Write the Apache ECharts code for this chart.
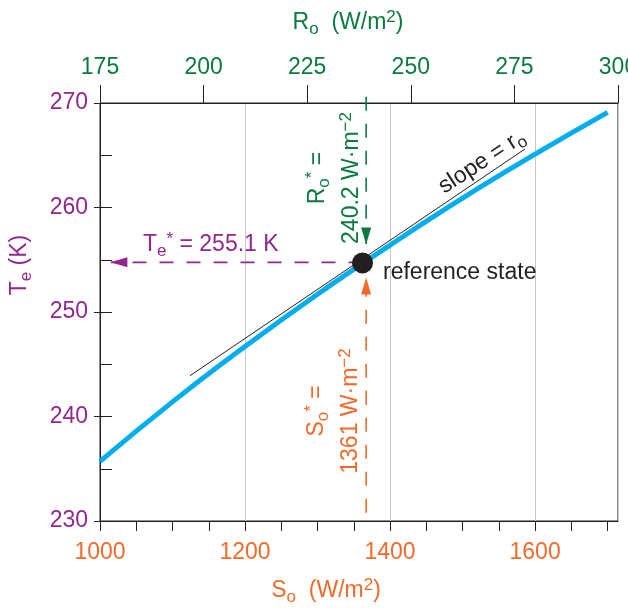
<!DOCTYPE html>
<html>
<head>
<meta charset="utf-8">
<script src="https://cdn.jsdelivr.net/npm/echarts@6/dist/echarts.min.js"></script>
<style>
  html, body { margin: 0; background: #fff; }
  #chart { width: 628px; height: 609px; }
</style>
</head>
<body>
<div id="chart"></div>
<script>
// effective temperature curve
const solarConst = [1000, 1100, 1200, 1300, 1400, 1500, 1600, 1700]
const tempEff = [235.7, 241.4, 246.7, 251.7, 256.4, 260.9, 265.1, 269.1]
// tangent line at the reference state [So, Te]
const tangentLine = [[1124, 243.9], [1586, 265.6]]
// reference state dot
const refPoint = [1362, 254.7]
// dashed guides: [start, arrow tip]
const teGuide = [[1362, 254.75], [1015, 254.75]]
const roGuide = [[1367, 270.6], [1367, 256.5]]
const soGuide = [[1367, 230.8], [1367, 253.25]]
// axes
const soRange = [1000, 1714.29]
const soLabels = [1000, 1200, 1400, 1600]
const soTicks = [1000, 1050, 1100, 1150, 1200, 1250, 1300, 1350, 1400, 1450, 1500, 1550, 1600, 1650, 1700]
const roRange = [175, 300]
const teRange = [230, 270]

const FONT = '"Liberation Sans", Arial, Helvetica, sans-serif'
const FS = 23
const INK = '#231F20'
const PURPLE = '#92278F'
const GREEN = '#0A7A3F'
const ORANGE = '#F26A2A'
const BLUE = '#00AEEF'

// rich styles with sub / superscripts for a given line height
function richFor(color, L) {
  return {
    b: { fontSize: FS, fontFamily: FONT, color: color, lineHeight: L },
    sub: { fontSize: 17, fontFamily: FONT, color: color, lineHeight: 16, padding: [L / 2 - 2, 0, L / 2 - 14, 0] },
    sup: { fontSize: 17, fontFamily: FONT, color: color, lineHeight: 16, padding: [L / 2 - 14, 0, L / 2 - 2, 0] }
  }
}

function label(text, color, x, y, opts) {
  opts = opts || {}
  const L = opts.lineHeight || 28
  return {
    type: 'text',
    x: x,
    y: y,
    rotation: opts.rotation || 0,
    z: 100,
    style: {
      text: text,
      x: 0,
      y: 0,
      align: opts.align || 'center',
      verticalAlign: 'middle',
      fill: color,
      font: FS + 'px ' + FONT,
      rich: richFor(color, L)
    }
  }
}

function guide(points, color, rotate, offset) {
  return {
    type: 'line',
    xAxisIndex: 0,
    yAxisIndex: 0,
    clip: false,
    silent: true,
    z: 5,
    showSymbol: true,
    lineStyle: { color: color, width: 1.6, type: [14, 13] },
    itemStyle: { color: color, opacity: 1 },
    data: [
      { value: points[0], symbol: 'none' },
      { value: points[1], symbol: 'triangle', symbolSize: [10, 17], symbolRotate: rotate, symbolOffset: offset }
    ]
  }
}

const plain = v => String(v)

const chart = echarts.init(document.getElementById('chart'))

chart.setOption({
  animation: false,
  backgroundColor: '#fff',
  grid: {
    left: 100,
    right: 10,
    top: 103,
    bottom: 88,
    outerBoundsMode: 'none',
    containLabel: false,
    show: true,
    borderColor: INK,
    borderWidth: 1
  },
  xAxis: [
    {
      type: 'value',
      position: 'bottom',
      min: soRange[0],
      max: soRange[1],
      axisLine: { lineStyle: { color: INK, width: 1 } },
      axisTick: { show: false },
      axisLabel: {
        customValues: soLabels,
        formatter: plain,
        color: ORANGE,
        fontSize: FS,
        fontFamily: FONT,
        margin: 20
      },
      splitLine: { show: false }
    },
    {
      type: 'value',
      position: 'bottom',
      min: soRange[0],
      max: soRange[1],
      interval: 200,
      axisLine: { show: false },
      axisTick: { show: false },
      axisLabel: { show: false },
      splitLine: { show: true, lineStyle: { color: '#c8c8c8', width: 1 } }
    },
    {
      type: 'value',
      position: 'bottom',
      min: soRange[0],
      max: soRange[1],
      axisLine: { show: false },
      axisTick: { show: true, customValues: soTicks, length: 10, lineStyle: { color: INK } },
      axisLabel: { show: false },
      splitLine: { show: false }
    },
    {
      type: 'value',
      position: 'top',
      min: roRange[0],
      max: roRange[1],
      interval: 25,
      axisLine: { lineStyle: { color: INK, width: 1 } },
      axisTick: { show: true, length: 18, lineStyle: { color: INK } },
      axisLabel: { color: GREEN, fontSize: FS, fontFamily: FONT, margin: 24, formatter: plain },
      splitLine: { show: false }
    }
  ],
  yAxis: [
    {
      type: 'value',
      position: 'left',
      min: teRange[0],
      max: teRange[1],
      interval: 10,
      axisLine: { show: true, lineStyle: { color: INK, width: 1 } },
      axisTick: { show: true, length: 6, lineStyle: { color: INK } },
      axisLabel: { color: PURPLE, fontSize: FS, fontFamily: FONT, margin: 12, formatter: plain },
      splitLine: { show: false }
    },
    {
      type: 'value',
      position: 'left',
      min: teRange[0],
      max: teRange[1],
      interval: 5,
      axisLine: { show: false },
      axisTick: { show: true, inside: true, length: 12, lineStyle: { color: INK } },
      axisLabel: { show: false },
      splitLine: { show: false }
    }
  ],
  series: [
    {
      type: 'line',
      name: 'Te',
      xAxisIndex: 0,
      yAxisIndex: 0,
      data: solarConst.map((s, i) => [s, tempEff[i]]),
      smooth: true,
      symbol: 'none',
      lineStyle: { color: BLUE, width: 5 },
      z: 3
    },
    {
      type: 'line',
      name: 'tangent',
      xAxisIndex: 0,
      yAxisIndex: 0,
      data: tangentLine,
      symbol: 'none',
      lineStyle: { color: INK, width: 1 },
      z: 4
    },
    guide(teGuide, PURPLE, 90, [8, 0]),
    guide(roGuide, GREEN, 180, [0, -8]),
    guide(soGuide, ORANGE, 0, [0, 8]),
    {
      type: 'scatter',
      name: 'reference',
      xAxisIndex: 0,
      yAxisIndex: 0,
      data: [refPoint],
      symbol: 'circle',
      symbolSize: 21,
      itemStyle: { color: INK, opacity: 1 },
      z: 10
    }
  ],
  graphic: [
    label('{b|R}{sub|o}{b|  (W/m}{sup|2}{b|)}', GREEN, 348, 23),
    label('{b|S}{sub|o}{b|  (W/m}{sup|2}{b|)}', ORANGE, 326, 591),
    label('{b|T}{sub|e}{b| (K)}', PURPLE, 20, 265, { rotation: Math.PI / 2 }),
    label('{b|T}{sub|e}{sup|*}{b| = 255.1 K}', PURPLE, 143, 245, { align: 'left' }),
    label('{b|R}{sub|o}{sup|*}{b| =}\n{b|240.2 W·m}{sup|−2}', GREEN, 335, 178, { rotation: Math.PI / 2, lineHeight: 34 }),
    label('{b|S}{sub|o}{sup|*}{b| =}\n{b|1361 W·m}{sup|−2}', ORANGE, 334, 411, { rotation: Math.PI / 2, lineHeight: 34 }),
    label('{b|slope = r}{sub|o}', INK, 482, 162, { rotation: 33 * Math.PI / 180 }),
    label('{b|reference state}', INK, 383, 273, { align: 'left' })
  ]
})
</script>
</body>
</html>
